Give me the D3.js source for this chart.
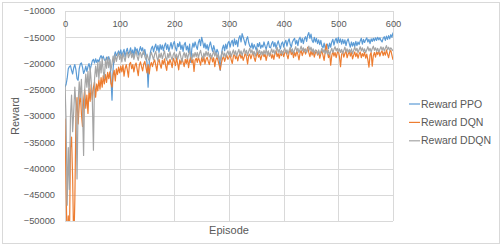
<!DOCTYPE html>
<html>
<head>
<meta charset="utf-8">
<script src="https://cdn.jsdelivr.net/npm/d3@7"></script>
<style>
html,body{margin:0;padding:0;background:#fff;}
svg{display:block;font-family:"Liberation Sans",Arial,sans-serif;}
</style>
</head>
<body>
<svg id="chart" width="502" height="246"></svg>
<script>
// Episodes sampled every 2 steps, 0..600
const episodeStep = 2;
const xTicks = [0, 100, 200, 300, 400, 500, 600];
const yTicks = [-10000, -15000, -20000, -25000, -30000, -35000, -40000, -45000, -50000];
const seriesNames = ["Reward PPO", "Reward DQN", "Reward DDQN"];

const rewardPPO = [
-24500,-24000,-22800,-21000,-20600,-20400,-21300,-22000,-20800,-20200,
-21200,-22900,-23200,-21000,-20100,-19900,-20700,-21900,-21400,-20500,
-21500,-20600,-20000,-21200,-20300,-19500,-19200,-19900,-19100,-19800,
-19300,-19700,-18900,-18500,-19100,-18600,-19300,-19500,-18800,-19600,
-18700,-19400,-22500,-27000,-21000,-18600,-17800,-18500,-18100,-17600,
-18300,-17400,-18600,-17900,-17300,-18800,-17700,-17100,-18200,-17800,
-17000,-18100,-17400,-18600,-16900,-17700,-17200,-18400,-17500,-16800,
-17600,-17000,-18200,-17300,-18500,-19800,-24500,-20000,-18000,-17100,
-16700,-17800,-16900,-16300,-17500,-16600,-17900,-16400,-17300,-16500,
-17600,-16600,-16100,-17300,-16400,-17700,-16800,-16000,-17200,-16300,
-15800,-17000,-17600,-16200,-16800,-15900,-17300,-16500,-17700,-16400,
-16000,-17400,-16700,-17900,-16300,-19800,-17200,-16100,-16900,-15900,
-16700,-17300,-16000,-15400,-16600,-15000,-15900,-17000,-16100,-17200,
-16400,-17500,-16600,-15900,-16900,-17700,-16600,-17400,-18300,-17300,
-17800,-19300,-21300,-18400,-17100,-16500,-17600,-16300,-17200,-16100,
-15800,-16900,-16000,-15600,-16700,-15300,-16400,-15600,-16800,-15200,
-14700,-15900,-14300,-15000,-15700,-16500,-15400,-14900,-16000,-16700,
-17000,-16100,-17200,-16400,-16900,-17500,-16200,-16800,-16000,-17100,
-16500,-16900,-15900,-16700,-17300,-16400,-15800,-16900,-17000,-16200,
-15800,-16800,-16000,-17100,-16300,-15700,-16500,-17200,-16200,-15900,
-16900,-16000,-15600,-16700,-15800,-15300,-16400,-16900,-15900,-15500,
-15200,-16300,-15600,-16600,-15400,-15000,-16000,-15200,-16200,-15300,
-14900,-15800,-14600,-14100,-15200,-14400,-15600,-16000,-15000,-15900,
-15200,-16200,-15500,-16400,-15600,-16700,-17000,-16100,-17100,-16600,
-16300,-17200,-16100,-16900,-15900,-15400,-16500,-15600,-15200,-16100,
-15000,-16000,-15300,-16300,-15400,-16200,-15500,-16600,-15700,-15300,
-16200,-16900,-15900,-16700,-16000,-16800,-15800,-16600,-15900,-16400,
-15700,-15200,-16300,-15400,-16000,-15500,-15100,-15900,-15400,-16200,
-15300,-15800,-15200,-15700,-15100,-15600,-15000,-15500,-15100,-15600,
-15900,-15200,-14900,-15600,-14800,-15400,-14700,-15300,-14500,-15000,
-14100
];

const rewardDQN = [
-30500,-44000,-55000,-49000,-55000,-36000,-34000,-42000,-55000,-46000,
-30000,-26500,-31500,-28000,-25500,-29500,-32000,-27000,-25000,-28500,
-26000,-29500,-24800,-27200,-24000,-26900,-24600,-23500,-26400,-23900,
-25200,-23100,-24900,-22700,-24500,-22300,-23900,-22100,-23600,-21700,
-22900,-21600,-23800,-24500,-22200,-21300,-23300,-21000,-22100,-20700,
-21800,-20500,-21600,-20300,-22400,-21000,-20200,-21200,-22600,-20100,
-19800,-21000,-20200,-21600,-20400,-19900,-21100,-22300,-20300,-19700,
-20600,-21400,-20100,-19600,-20700,-21800,-20200,-22000,-20400,-19800,
-20600,-19800,-19300,-20300,-21400,-19700,-19200,-20200,-20900,-19400,
-20100,-19100,-20400,-21300,-19500,-20200,-19200,-19900,-20800,-19000,
-19600,-20400,-18900,-20000,-21200,-19300,-20100,-19100,-19800,-20600,
-19200,-20000,-18900,-20800,-19400,-18800,-19900,-19200,-21500,-19400,
-19000,-19800,-18800,-19500,-20300,-18900,-19700,-18700,-20100,-19200,
-18800,-19600,-20200,-19000,-18600,-19700,-18900,-20600,-19300,-18700,
-19500,-20300,-21200,-19900,-19100,-18600,-19600,-18900,-18400,-19200,
-18800,-18300,-19300,-20000,-18600,-18100,-19100,-18500,-19500,-18600,
-18100,-19000,-18400,-19400,-18700,-17900,-18800,-20100,-18500,-18200,
-19100,-18400,-17800,-18900,-19600,-18500,-17900,-18800,-18300,-19300,
-18500,-17900,-18700,-18200,-19400,-18400,-17700,-18600,-18000,-19000,
-18300,-19200,-18100,-17600,-18700,-18100,-19000,-17900,-18500,-17800,
-18700,-18000,-17500,-18400,-19100,-17900,-17400,-18300,-17800,-18900,
-17900,-18600,-17600,-18300,-19300,-18000,-17500,-18500,-17800,-17300,
-18200,-17700,-16900,-17900,-18700,-17600,-18400,-17700,-18800,-18000,
-17500,-18400,-17700,-19000,-18100,-17500,-18500,-19400,-17800,-16300,
-17900,-18900,-18000,-20300,-18500,-17700,-18600,-17900,-18900,-18000,
-17600,-18700,-20600,-18300,-17700,-18800,-18100,-17500,-18900,-18200,
-17700,-18600,-17900,-19100,-18400,-17800,-18700,-18000,-19000,-18200,
-17800,-18900,-18100,-18600,-17900,-19000,-18200,-19300,-20700,-18400,
-17900,-20500,-18500,-17900,-18800,-17800,-18300,-17500,-18600,-17900,
-17600,-18500,-17800,-18400,-17400,-18200,-18900,-17800,-17500,-18400,
-19300
];

const rewardDDQN = [
-24000,-31000,-47000,-36000,-44000,-30000,-26000,-33000,-29000,-24500,
-28000,-42000,-27500,-23500,-26500,-23000,-28500,-37500,-25000,-22000,
-24500,-21500,-25500,-20800,-23500,-27000,-36500,-23000,-20500,-22500,
-19800,-23000,-19600,-21800,-19000,-21500,-22800,-19200,-20900,-18800,
-20800,-19200,-21300,-20000,-18600,-19900,-18300,-19600,-18700,-18000,
-19200,-18300,-19700,-18000,-18900,-19600,-18200,-17800,-18900,-18400,
-17700,-18900,-18100,-19200,-18300,-17600,-18700,-19400,-18200,-17900,
-18900,-18100,-17600,-18700,-19300,-18200,-19000,-19500,-18500,-17900,
-18600,-19300,-18200,-17700,-18800,-19500,-18100,-18900,-18000,-19100,
-18300,-17600,-18900,-19400,-18100,-18900,-17800,-18700,-19300,-18300,
-17900,-19000,-18200,-19200,-18400,-17700,-18800,-19600,-18500,-17900,
-18900,-18000,-19100,-18300,-17600,-18700,-19300,-18100,-18800,-17900,
-18700,-17900,-18900,-18100,-17500,-18500,-19100,-18000,-18700,-17700,
-18500,-17800,-18800,-18100,-19000,-18300,-17600,-18600,-17900,-18900,
-18200,-19000,-19400,-18400,-17700,-18700,-18000,-18800,-18100,-17600,
-18400,-17700,-18700,-18000,-17400,-18300,-17600,-18600,-17900,-17300,
-18200,-17600,-18500,-17800,-17200,-18100,-17500,-18500,-17700,-17100,
-18000,-17400,-18300,-17700,-18600,-17900,-17200,-18200,-17500,-18300,
-17700,-18400,-17500,-18200,-17300,-18300,-17600,-18600,-17900,-17200,
-18000,-17400,-18200,-17600,-16900,-17900,-17300,-18100,-17500,-18300,
-17600,-17000,-18000,-17400,-18200,-17500,-16900,-17800,-17200,-18100,
-17400,-16800,-17700,-17100,-17900,-17300,-16700,-17600,-17000,-17800,
-17200,-17900,-17300,-16700,-17500,-16900,-17800,-17200,-18100,-17400,
-17600,-18200,-17400,-18300,-17700,-17100,-17900,-17300,-18100,-17400,
-18200,-17500,-18400,-17700,-17100,-17900,-17300,-16800,-17600,-17100,
-17800,-17200,-17900,-17300,-18100,-17500,-16900,-17800,-17200,-17900,
-17300,-17900,-17200,-18100,-17500,-16900,-17600,-17100,-17900,-17400,
-16800,-17600,-17000,-17800,-17200,-17900,-17400,-16800,-17600,-17100,
-17800,-17200,-16700,-17500,-17000,-17700,-17100,-17800,-17300,-16800,
-17500,-16900,-17600,-17100,-16600,-17400,-16900,-17500,-17000,-17300,
-17600
];

const colors = ["#5B9BD5", "#ED7D31", "#A5A5A5"];
const allSeries = [rewardPPO, rewardDQN, rewardDDQN];

const svg = d3.select("#chart");
const plot = {left: 65, right: 393, top: 11, bottom: 221};
const textColor = "#595959";
const gridColor = "#d9d9d9";

// chart border
svg.append("rect").attr("x", 2.5).attr("y", 2.5).attr("width", 497).attr("height", 241)
  .attr("fill", "#fff").attr("stroke", gridColor).attr("stroke-width", 1);

const x = d3.scaleLinear().domain([0, 600]).range([plot.left, plot.right]);
const y = d3.scaleLinear().domain([-50000, -10000]).range([plot.bottom, plot.top]);

// gridlines
svg.append("g").selectAll("line").data(yTicks).join("line")
  .attr("x1", plot.left).attr("x2", plot.right)
  .attr("y1", d => Math.round(y(d)) + 0.5).attr("y2", d => Math.round(y(d)) + 0.5)
  .attr("stroke", gridColor).attr("stroke-width", 1);
svg.append("g").selectAll("line").data(xTicks).join("line")
  .attr("x1", d => Math.round(x(d)) + 0.5).attr("x2", d => Math.round(x(d)) + 0.5)
  .attr("y1", plot.top).attr("y2", plot.bottom)
  .attr("stroke", gridColor).attr("stroke-width", 1);

// axes
const yAxis = svg.append("g").attr("transform", `translate(${plot.left},0)`)
  .call(d3.axisLeft(y).tickValues(yTicks).tickSize(0).tickPadding(10).tickFormat(d3.format("d")));
yAxis.select(".domain").remove();
yAxis.selectAll("text").attr("fill", textColor).style("font-size", "9.3px")
  .style("font-family", "'Liberation Sans', Arial, sans-serif");

const xAxis = svg.append("g").attr("transform", `translate(0,${y(-10000)})`)
  .call(d3.axisBottom(x).tickValues(xTicks).tickSize(0).tickPadding(9).tickFormat(d3.format("d")));
xAxis.select(".domain").remove();
xAxis.selectAll("text").attr("fill", textColor).style("font-size", "9.3px")
  .style("font-family", "'Liberation Sans', Arial, sans-serif");

// clip
svg.append("clipPath").attr("id", "plotclip").append("rect")
  .attr("x", plot.left).attr("y", plot.top)
  .attr("width", plot.right - plot.left).attr("height", plot.bottom - plot.top);

const line = d3.line().x((d, i) => x(i * episodeStep)).y(d => y(d));

const lines = svg.append("g").attr("clip-path", "url(#plotclip)");
allSeries.forEach((s, k) => {
  lines.append("path").datum(s).attr("d", line)
    .attr("fill", "none").attr("stroke", colors[k]).attr("stroke-width", 1.2)
    .attr("stroke-linejoin", "round");
});

// axis titles
svg.append("text").attr("x", 229).attr("y", 234).attr("text-anchor", "middle")
  .attr("fill", textColor).style("font-size", "11px").text("Episode");
svg.append("text").attr("transform", "translate(19,116) rotate(-90)").attr("text-anchor", "middle")
  .attr("fill", textColor).style("font-size", "11px").text("Reward");

// legend
const legendY = [104, 122.4, 140.8];
const legend = svg.append("g");
seriesNames.forEach((name, k) => {
  legend.append("line").attr("x1", 409).attr("x2", 420)
    .attr("y1", legendY[k]).attr("y2", legendY[k])
    .attr("stroke", colors[k]).attr("stroke-width", 1.2);
  legend.append("text").attr("x", 421).attr("y", legendY[k]).attr("dy", "0.35em")
    .attr("fill", textColor).style("font-size", "10.5px").text(name);
});
</script>
</body>
</html>
